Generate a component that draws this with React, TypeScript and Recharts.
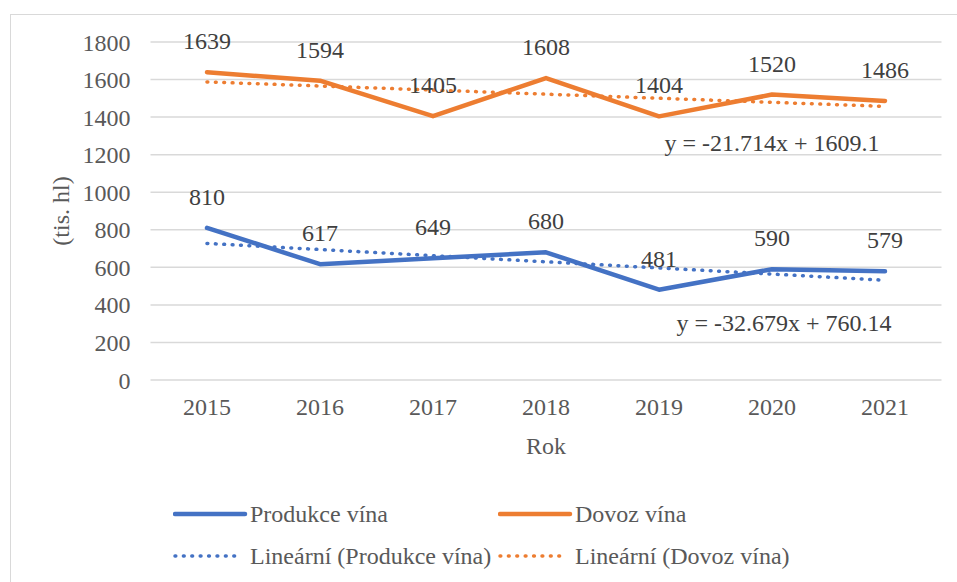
import { CartesianGrid, Label, LabelList, Legend, Line, LineChart, ReferenceDot, XAxis, YAxis } from "recharts";

const years = ["2015", "2016", "2017", "2018", "2019", "2020", "2021"];
const produkce = [810, 617, 649, 680, 481, 590, 579];
const dovoz = [1639, 1594, 1405, 1608, 1404, 1520, 1486];
const trendProdukce = [727.5, 694.8, 662.1, 629.4, 596.7, 564.1, 531.4];
const trendDovoz = [1587.4, 1565.7, 1544.0, 1522.2, 1500.5, 1478.8, 1457.1];
const yTicks = [0, 200, 400, 600, 800, 1000, 1200, 1400, 1600, 1800];
const legendOrder = ["Produkce vína", "Dovoz vína", "Lineární (Produkce vína)", "Lineární (Dovoz vína)"];

const BLUE = "#4472C4";
const ORANGE = "#ED7D31";
const TEXT = "#595959";
const LABEL = "#404040";
const FONT = '"Liberation Serif"';
const FS = 24;

const data = years.map((year, i) => ({
  year,
  produkce: produkce[i],
  dovoz: dovoz[i],
  trendP: trendProdukce[i],
  trendD: trendDovoz[i]
}));

function renderLegend(props: any) {
  const items = [...(props.payload || [])].sort(
    (a: any, b: any) => legendOrder.indexOf(a.value) - legendOrder.indexOf(b.value)
  );
  return (
    <div
      style={{
        display: "grid",
        gridTemplateColumns: "325px 325px",
        paddingLeft: 173,
        fontFamily: FONT,
        fontSize: FS,
        color: TEXT
      }}
    >
      {items.map((item: any) => {
        const dotted = item.value.startsWith("Lineární");
        return (
          <div key={item.value} style={{ display: "flex", alignItems: "center", height: 42 }}>
            <svg width={77} height={10}>
              <line
                x1={2}
                y1={5}
                x2={dotted ? 68 : 72}
                y2={5}
                stroke={item.color}
                strokeWidth={dotted ? 3.5 : 4.5}
                strokeLinecap="round"
                strokeDasharray={dotted ? "0.8 7.6" : undefined}
              />
            </svg>
            <span>{item.value}</span>
          </div>
        );
      })}
    </div>
  );
}

export default function App() {
  return (
    <div style={{ position: "fixed", left: 0, top: 0, width: 957, height: 582, background: "#fff" }}>
      <div
        style={{
          position: "absolute",
          left: 10,
          top: 14,
          width: 980,
          height: 600,
          border: "1.5px solid #D9D9D9"
        }}
      />
      <div style={{ position: "absolute", left: 0, top: 0, fontFamily: FONT }}>
        <LineChart
          width={957}
          height={582}
          data={data}
          margin={{ top: 42, right: 15.5, bottom: 122, left: 0 }}
        >
          <CartesianGrid vertical={false} stroke="#D9D9D9" strokeWidth={1.5} />
          <XAxis
            dataKey="year"
            height={80}
            padding={{ left: 56.5, right: 56.5 }}
            axisLine={false}
            tickLine={false}
            tickMargin={12}
            tick={{ fill: TEXT, fontSize: FS, fontFamily: FONT }}
          >
            <Label value="Rok" position="insideBottom" offset={6} fill={TEXT} fontSize={FS} fontFamily={FONT} />
          </XAxis>
          <YAxis
            width={150.5}
            domain={[0, 1800]}
            ticks={yTicks}
            interval={0}
            axisLine={false}
            tickLine={false}
            tickMargin={14}
            tick={{ fill: TEXT, fontSize: FS, fontFamily: FONT }}
          >
            <Label
              content={(p: any) => {
                const vb = p.viewBox;
                const cx = 61;
                const cy = vb.y + vb.height / 2;
                return (
                  <text
                    x={cx}
                    y={cy}
                    transform={`rotate(-90 ${cx} ${cy})`}
                    textAnchor="middle"
                    dominantBaseline="central"
                    fill={TEXT}
                    fontSize={FS}
                    fontFamily={FONT}
                  >
                    (tis. hl)
                  </text>
                );
              }}
            />
          </YAxis>
          <Legend
            layout="horizontal"
            verticalAlign="middle"
            wrapperStyle={{ left: 0, top: 493, width: 957 }}
            content={renderLegend}
          />
          <Line
            dataKey="produkce"
            name="Produkce vína"
            stroke={BLUE}
            strokeWidth={4.5}
            strokeLinecap="round"
            strokeLinejoin="round"
            dot={false}
            isAnimationActive={false}
          >
            <LabelList dataKey="produkce" position="top" offset={23} fill={LABEL} fontSize={FS} fontFamily={FONT} />
          </Line>
          <Line
            dataKey="dovoz"
            name="Dovoz vína"
            stroke={ORANGE}
            strokeWidth={4.5}
            strokeLinecap="round"
            strokeLinejoin="round"
            dot={false}
            isAnimationActive={false}
          >
            <LabelList dataKey="dovoz" position="top" offset={23} fill={LABEL} fontSize={FS} fontFamily={FONT} />
          </Line>
          <Line
            dataKey="trendP"
            name="Lineární (Produkce vína)"
            stroke={BLUE}
            strokeWidth={3.5}
            strokeLinecap="round"
            strokeDasharray="0.8 7.6"
            dot={false}
            isAnimationActive={false}
          />
          <Line
            dataKey="trendD"
            name="Lineární (Dovoz vína)"
            stroke={ORANGE}
            strokeWidth={3.5}
            strokeLinecap="round"
            strokeDasharray="0.8 7.6"
            dot={false}
            isAnimationActive={false}
          />
          <ReferenceDot x="2020" y={1265} r={0} fill="none" stroke="none">
            <Label value="y = -21.714x + 1609.1" position="center" fill={LABEL} fontSize={FS} fontFamily={FONT} />
          </ReferenceDot>
          <ReferenceDot x="2020" y={306} r={0} fill="none" stroke="none">
            <Label value="y = -32.679x + 760.14" position="center" dx={12} fill={LABEL} fontSize={FS} fontFamily={FONT} />
          </ReferenceDot>
        </LineChart>
      </div>
    </div>
  );
}
